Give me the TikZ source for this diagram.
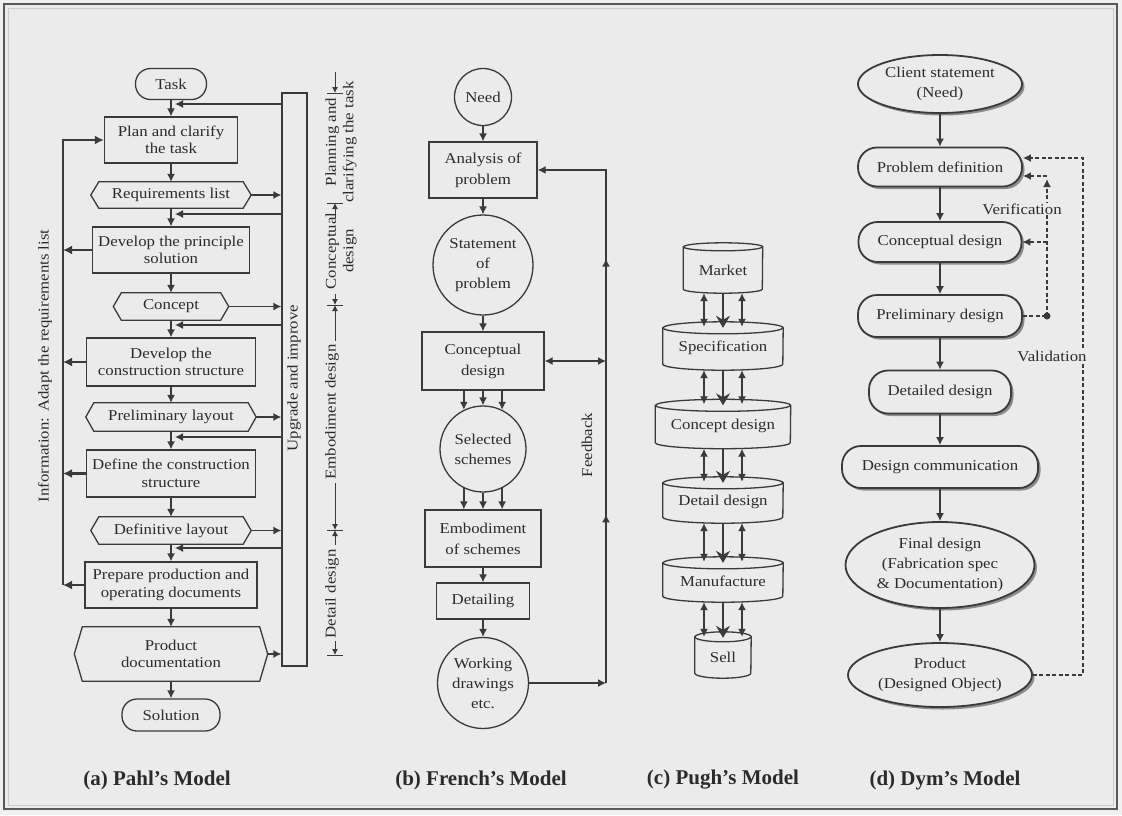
\documentclass[tikz,border=0pt]{standalone}
\usepackage{fontspec}
\setmainfont{Liberation Serif}[FakeStretch=1.12]
\newfontfamily\ttlfont{Liberation Serif}
\usetikzlibrary{arrows.meta,shapes.geometric,shadows,decorations.markings}
\definecolor{bg}{HTML}{EBEBEB}
\definecolor{lncol}{HTML}{3A3A3A}
\definecolor{tx}{HTML}{2B2B2B}
\newcommand\hexnode[6]{%
  \node[hexs, minimum width=#4, minimum height=#5] (#1) at (#2,#3) {#6};
  \draw[lnp] ([xshift=8pt]#1.north west) -- ([xshift=-8pt]#1.north east) -- (#1.east)
    -- ([xshift=-8pt]#1.south east) -- ([xshift=8pt]#1.south west) -- (#1.west) -- cycle;}
\newcommand\pughcyl[7]{%
  \node[minimum width=#4, minimum height=#5, inner sep=0pt] (#1) at (#2,#3) {};
  \draw[lnp, fill=bg] ([yshift=-#6pt]#1.north west) -- ([yshift=#6pt]#1.south west)
    arc[start angle=180, end angle=360, x radius=#4*0.5pt, y radius=#6pt]
    -- ([yshift=-#6pt]#1.north east)
    arc[start angle=0, end angle=180, x radius=#4*0.5pt, y radius=#6pt] -- cycle;
  \draw[lnp] ([yshift=-#6pt]#1.north west) arc[start angle=180, end angle=360, x radius=#4*0.5pt, y radius=#6pt];
  \node (#1t) at ([yshift=-2pt]#1.center) {#7};}
\begin{document}
\begin{tikzpicture}[x=1pt,y=-1pt,
  every node/.style={text=tx, font=\fontsize{15}{17.5}\selectfont},
  lnp/.style={draw=lncol, line width=1.3pt},
  box/.style={lnp, fill=bg, rectangle, align=center, inner sep=1pt},
  stad/.style={box, rounded corners=15pt},
  hexs/.style={rectangle, align=center, inner sep=1pt},
  circ/.style={lnp, fill=bg, circle, align=center, inner sep=0pt, font=\fontsize{15}{20}\selectfont},
  fbox/.style={box, font=\fontsize{15}{21}\selectfont},
  arr/.style={lnp, -{Latex[length=8pt,width=8pt]}},
  arr2/.style={lnp, {Latex[length=8pt,width=8pt]}-{Latex[length=8pt,width=8pt]}},
  bigarr/.style={lnp, -{Stealth[length=12pt,width=14pt,inset=4pt]}},
  tarr/.style={draw=lncol, line width=2.2pt, -{Latex[length=9pt,width=9pt]}},
  marr/.style={draw=lncol, line width=0.9pt, -{Latex[length=6pt,width=6pt]}},
  dym/.style={draw=lncol, line width=1.8pt, fill=bg, align=center, inner sep=0pt,
     font=\fontsize{15}{20}\selectfont,
     drop shadow={shadow xshift=2.5pt, shadow yshift=-2.5pt, fill=black!45, opacity=1}},
  dymell/.style={dym, ellipse},
  dymrr/.style={dym, rectangle, rounded corners=19pt},
  dsh/.style={draw=lncol, line width=1.8pt, dash pattern=on 4pt off 2.5pt},
  ttl/.style={font=\ttlfont\bfseries\fontsize{21}{24}\selectfont}
]
\useasboundingbox (0,0) rectangle (1122,815);
\fill[white!94!black] (0,0) rectangle (1122,815);
\fill[bg] (4,4) rectangle (1117,809);
\draw[draw=black!65, line width=2pt] (4,4) rectangle (1117,809);
\draw[draw=white!80!black, line width=1pt] (8,8) rectangle (1113,805);

% ---------------- (a) Pahl ----------------
\node[stad, minimum width=71, minimum height=31] (task) at (171,84) {Task};
\node[box, minimum width=133, minimum height=46] (plan) at (171,140) {Plan and clarify\\the task};
\hexnode{req}{171}{195}{160}{26}{Requirements list}
\node[box, minimum width=157, minimum height=46] (dps) at (171,250) {Develop the principle\\solution};
\hexnode{con}{171}{306.5}{115}{27}{Concept}
\node[box, minimum width=169, minimum height=48] (dcs) at (171,362) {Develop the\\construction structure};
\hexnode{pre}{171}{417}{170}{28}{Preliminary layout}
\node[box, minimum width=169, minimum height=47] (def) at (171,473.5) {Define the construction\\structure};
\hexnode{dfl}{171}{530.5}{160}{27}{Definitive layout}
\node[box, minimum width=172, minimum height=46] (ppd) at (171,585) {Prepare production and\\operating documents};
\hexnode{pdoc}{171}{654}{193}{54}{Product\\documentation}
\node[stad, minimum width=98, minimum height=32] (sol) at (171,715) {Solution};

\foreach \a/\b in {task/plan, plan/req, req/dps, dps/con, con/dcs, dcs/pre, pre/def, def/dfl, dfl/ppd, ppd/pdoc, pdoc/sol}
  \draw[arr] (\a.south) -- (\a.south |- \b.north);

\node[lnp, minimum width=25, minimum height=573, inner sep=0pt] (upg) at (294.5,379.5) {};
\node[rotate=90] (upgt) at (294,378) {Upgrade and improve};
\foreach \n in {req,con,pre,dfl,pdoc}
  \draw[arr] (\n.east) -- (\n.east -| upg.west);
\foreach \y/\t in {104/plan, 214/dps, 325/dcs, 437/def, 548/ppd} {
  \coordinate (fb-\t) at (0,\y);
  \coordinate (fe-\t) at ([xshift=4pt]\t.north);
  \draw[arr] (upg.west |- fb-\t) -- (fe-\t |- fb-\t);
}
\coordinate (ib) at (63,585);
\foreach \n in {dps,dcs,def,ppd}
  \draw[tarr] (\n.west) -- (\n.west -| ib);
\draw[tarr] (ib) |- (plan.west);
\node[rotate=90] (info) at (45,366) {Information: Adapt the requirements list};

% phase labels
\node[rotate=90, align=center, inner sep=0pt] (ph1) at (341,142) {Planning and\\clarifying the task};
\node[rotate=90, align=center, inner sep=0pt] (ph2) at (341,251) {Conceptual\\design};
\node[rotate=90, inner sep=0pt] (ph3) at (332,412) {Embodiment design};
\node[rotate=90, inner sep=0pt] (ph4) at (332,594) {Detail design};
\foreach \y in {93,203,305,530,655} \draw[draw=lncol, line width=0.9pt] (327,\y) -- (343,\y);
\draw[marr] (335,72) -- (335,93);
\draw[marr] (335,218) -- (335,203);
\draw[marr] (335,294) -- (335,305);
\draw[marr] (335,341) -- (335,305);
\draw[marr] (335,483) -- (335,530);
\draw[marr] (335,545) -- (335,530);
\draw[marr] (335,641) -- (335,655);

\node[ttl] (ta) at (157,780) {(a) Pahl’s Model};

% ---------------- (b) French ----------------
\node[circ, minimum size=57] (need) at (483,97) {Need};
\node[fbox, minimum width=108, minimum height=56] (ana) at (483,170) {Analysis of\\problem};
\node[circ, minimum size=100] (stp) at (483,265) {Statement\\of\\problem};
\node[fbox, minimum width=122, minimum height=58] (cd) at (483,361) {Conceptual\\design};
\node[circ, minimum size=86] (sel) at (483,449) {Selected\\schemes};
\node[fbox, minimum width=116, minimum height=57] (emb) at (483,538.5) {Embodiment\\of schemes};
\node[fbox, minimum width=93, minimum height=36] (dtl) at (483,601) {Detailing};
\node[circ, minimum size=91] (wd) at (483,683) {Working\\drawings\\etc.};

\draw[arr] (need) -- (ana);
\draw[arr] (ana) -- (stp);
\draw[arr] (stp) -- (cd);
\foreach \a in {116,90,64} \draw[arr] (cd.south -| sel.\a) -- (sel.\a);
\foreach \a in {244,270,296} \draw[arr] (sel.\a) -- (sel.\a |- emb.north);
\draw[arr] (emb) -- (dtl);
\draw[arr] (dtl) -- (wd);

\coordinate (fbx) at (606,0);
\draw[arr] (wd.east) -- (wd.east -| fbx);
\draw[arr, postaction={decorate}, decoration={markings,
   mark=at position 0.29 with {\arrow{Latex[length=8pt,width=8pt]}},
   mark=at position 0.73 with {\arrow{Latex[length=8pt,width=8pt]}}}]
   (wd.east -| fbx) -- (ana.east -| fbx) -- (ana.east);
\draw[arr2] (cd.east) -- (cd.east -| fbx);
\node[rotate=90] (fbt) at (587,445) {Feedback};

\node[ttl] (tb) at (481,780) {(b) French’s Model};

% ---------------- (c) Pugh ----------------
\pughcyl{mkt}{723}{268}{79}{50}{4}{Market}
\pughcyl{spec}{723}{346}{120}{48}{6}{Specification}
\pughcyl{cdz}{723}{424}{135}{49}{6}{Concept design}
\pughcyl{ddz}{723}{500}{120}{46}{6}{Detail design}
\pughcyl{man}{723}{579.5}{120}{45}{6}{Manufacture}
\pughcyl{sell}{723}{655}{56}{46}{5}{Sell}
\foreach \a/\b in {mkt/spec, spec/cdz, cdz/ddz, ddz/man, man/sell} {
  \draw[arr2] ([xshift=-19pt]\a.south) -- ([xshift=-19pt,yshift=-5pt]\b.north);
  \draw[arr2] ([xshift=19pt]\a.south) -- ([xshift=19pt,yshift=-5pt]\b.north);
  \draw[bigarr] (\a.south) -- ([yshift=-6pt]\b.north);
}
\node[ttl] (tc) at (723,780) {(c) Pugh’s Model};

% ---------------- (d) Dym ----------------
\node[dymell, minimum width=164, minimum height=58] (cli) at (940,84) {Client statement\\(Need)};
\node[dymrr, minimum width=164, minimum height=39] (prob) at (940,167) {Problem definition};
\node[dymrr, minimum width=163, minimum height=40] (cdes) at (940,242) {Conceptual design};
\node[dymrr, minimum width=164, minimum height=42] (pdes) at (940,316) {Preliminary design};
\node[dymrr, minimum width=142, minimum height=43] (ddes) at (940,392) {Detailed design};
\node[dymrr, minimum width=196, minimum height=42] (dcom) at (940,467) {Design communication};
\node[dymell, minimum width=189, minimum height=86] (fin) at (940,565) {Final design\\(Fabrication spec\\\& Documentation)};
\node[dymell, minimum width=184, minimum height=64] (prod) at (940,675) {Product\\(Designed Object)};
\foreach \a/\b in {cli/prob, prob/cdes, cdes/pdes, pdes/ddes, ddes/dcom, dcom/fin, fin/prod}
  \draw[arr] (\a) -- (\b);

\coordinate (vb) at (1047,316);
\coordinate (vt) at (1047,179);
\coordinate (pv) at ([yshift=-9pt]prob.east);
\coordinate (pu) at ([yshift=9pt]prob.east);
\coordinate (vr) at (1083,0);
\draw[dsh] (pdes.east) -- (vb);
\fill[lncol] (vb) circle (3.5pt);
\draw[dsh, -{Latex[length=8pt,width=8pt]}] (vb) -- (vt);
\draw[dsh, -{Latex[length=8pt,width=8pt]}] (cdes.east -| vb) -- (cdes.east);
\draw[dsh, -{Latex[length=8pt,width=8pt]}] (pv -| vb) -- (pv);
\draw[dsh, -{Latex[length=8pt,width=8pt]}] (prod.east) -- (prod.east -| vr) -- (pu -| vr) -- (pu);
\node[fill=bg, inner sep=1pt] (vert) at (1022,209) {Verification};
\node[fill=bg, inner sep=1pt] (valt) at (1052,356) {Validation};

\node[ttl] (td) at (945,780) {(d) Dym’s Model};
\end{tikzpicture}
\end{document}
